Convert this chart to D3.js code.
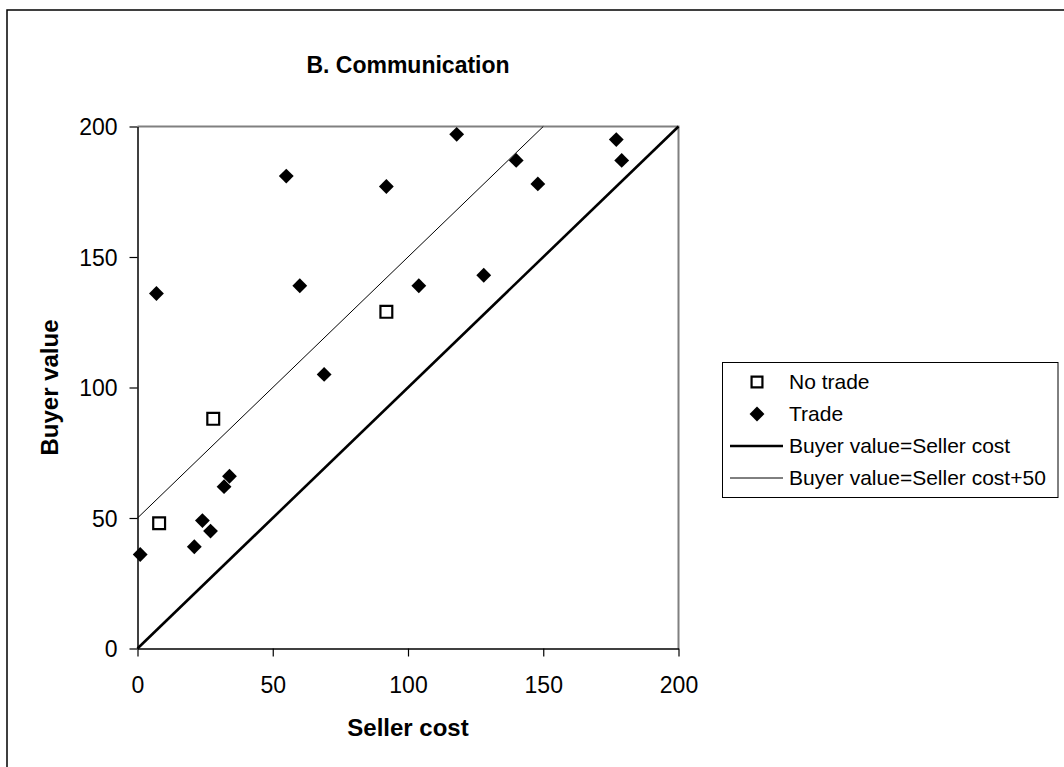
<!DOCTYPE html>
<html><head><meta charset="utf-8">
<script src="https://cdn.jsdelivr.net/npm/d3@7"></script>
<style>
body{margin:0;background:#fff;}
text{font-family:"Liberation Sans",Arial,sans-serif;fill:#000;}
</style>
</head><body><svg id="c" width="1064" height="767"></svg>
<script>
// ---- data ----
const tradeSellerCost = [1, 7, 21, 24, 27, 32, 34, 55, 60, 69, 92, 104, 118, 128, 140, 148, 177, 179];
const tradeBuyerValue = [36, 136, 39, 49, 45, 62, 66, 181, 139, 105, 177, 139, 197, 143, 187, 178, 195, 187];
const noTradeSellerCost = [8, 28, 92];
const noTradeBuyerValue = [48, 88, 129];
const xTicks = [0, 50, 100, 150, 200];
const yTicks = [0, 50, 100, 150, 200];
const equalLine = [[0, 0], [200, 200]];
const plus50Line = [[0, 50], [150, 200]];
const legendLabels = ["No trade", "Trade", "Buyer value=Seller cost", "Buyer value=Seller cost+50"];
const chartTitle = "B. Communication";
const xTitle = "Seller cost";
const yTitle = "Buyer value";

// ---- layout ----
const svg = d3.select("#c");
const L = 137.5, R = 678.5, T = 126.5, B = 648.5;
const x = d3.scaleLinear().domain([0, 200]).range([L, R]);
const y = d3.scaleLinear().domain([0, 200]).range([B, T]);

// outer frame
svg.append("rect").attr("x", 7).attr("y", 10).attr("width", 1100).attr("height", 800)
  .attr("fill", "#fff").attr("stroke", "#000").attr("stroke-width", 1.5);

// plot area border top/right gray
svg.append("path").attr("d", `M${L},${T}H${R}V${B}`).attr("fill", "none")
  .attr("stroke", "#808080").attr("stroke-width", 2);

// axes
const xAxis = svg.append("g").attr("transform", `translate(0,${B})`)
  .call(d3.axisBottom(x).tickValues(xTicks).tickSize(8).tickPadding(12).tickSizeOuter(0));
const yAxis = svg.append("g").attr("transform", `translate(${L},0)`)
  .call(d3.axisLeft(y).tickValues(yTicks).tickSize(8).tickPadding(12).tickSizeOuter(0));
[xAxis, yAxis].forEach(g => {
  g.select(".domain").attr("stroke", "#000").attr("stroke-width", 1.5);
  g.selectAll(".tick line").attr("stroke", "#000").attr("stroke-width", 1.2);
  g.selectAll(".tick text").style("font-family", '"Liberation Sans", Arial, sans-serif')
    .style("font-size", "23px").attr("fill", "#000");
});
xAxis.selectAll(".tick text").attr("dy", "0.71em").attr("y", 28);
yAxis.selectAll(".tick text").attr("x", -20).attr("dy", "0.35em");

// reference lines
const line = d3.line().x(d => x(d[0])).y(d => y(d[1]));
svg.append("path").datum(plus50Line).attr("d", line).attr("stroke", "#000")
  .attr("stroke-width", 1).attr("fill", "none");
svg.append("path").datum(equalLine).attr("d", line).attr("stroke", "#000")
  .attr("stroke-width", 2.6).attr("fill", "none");

// markers
const diamond = d3.symbol(d3.symbolSquare, 110);
const square = d3.symbol(d3.symbolSquare, 140);
svg.append("g").selectAll("path").data(d3.range(tradeSellerCost.length)).join("path")
  .attr("d", diamond)
  .attr("transform", i => `translate(${x(tradeSellerCost[i])},${y(tradeBuyerValue[i])}) rotate(45)`)
  .attr("fill", "#000");
svg.append("g").selectAll("path").data(d3.range(noTradeSellerCost.length)).join("path")
  .attr("d", square)
  .attr("transform", i => `translate(${x(noTradeSellerCost[i])},${y(noTradeBuyerValue[i])})`)
  .attr("fill", "#fff").attr("stroke", "#000").attr("stroke-width", 2.2);

// titles
svg.append("text").attr("x", (L + R) / 2).attr("y", 73).attr("text-anchor", "middle")
  .style("font-size", "23px").style("font-weight", "bold").text(chartTitle);
svg.append("text").attr("x", (L + R) / 2).attr("y", 736).attr("text-anchor", "middle")
  .style("font-size", "24px").style("font-weight", "bold").text(xTitle);
svg.append("text").attr("transform", `translate(58,${(T + B) / 2}) rotate(-90)`)
  .attr("text-anchor", "middle")
  .style("font-size", "24px").style("font-weight", "bold").text(yTitle);

// legend
const lg = svg.append("g");
const rowY = [382, 414, 446, 478];
lg.append("rect").attr("x", 722.5).attr("y", 362.5).attr("width", 335.5).attr("height", 135)
  .attr("fill", "#fff").attr("stroke", "#000").attr("stroke-width", 1);
legendLabels.forEach((lab, i) => {
  const cy = rowY[i];
  if (i === 0) {
    lg.append("path").attr("d", d3.symbol(d3.symbolSquare, 118)).attr("transform", `translate(757,${cy})`)
      .attr("fill", "#fff").attr("stroke", "#000").attr("stroke-width", 2.2);
  } else if (i === 1) {
    lg.append("path").attr("d", d3.symbol(d3.symbolSquare, 110)).attr("transform", `translate(757,${cy}) rotate(45)`)
      .attr("fill", "#000");
  } else {
    lg.append("line").attr("x1", 730).attr("x2", 783).attr("y1", cy).attr("y2", cy)
      .attr("stroke", "#000").attr("stroke-width", i === 2 ? 2.6 : 1);
  }
  lg.append("text").attr("x", 789).attr("y", cy).attr("dy", "0.35em")
    .style("font-size", "21px").text(lab);
});
</script>
</body></html>
